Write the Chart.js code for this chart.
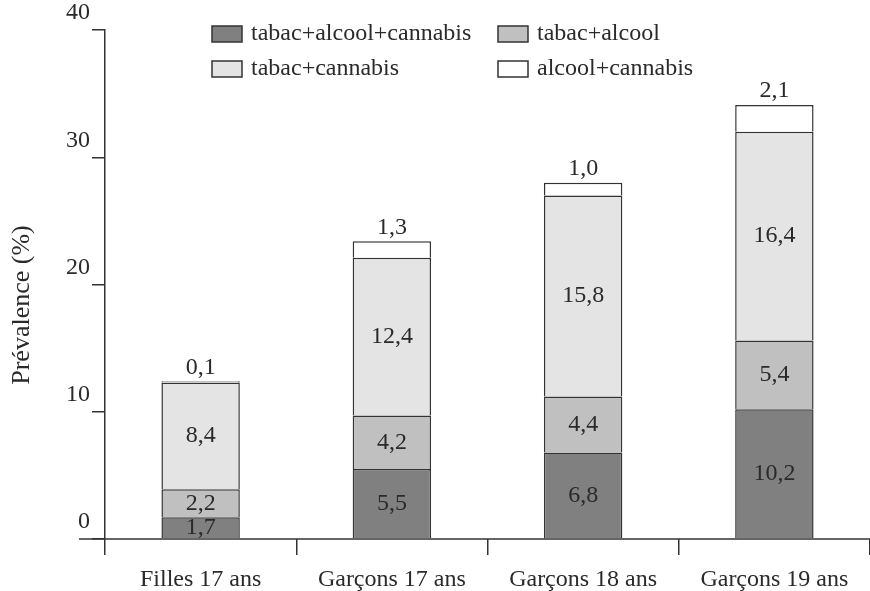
<!DOCTYPE html>
<html>
<head>
<meta charset="utf-8">
<script src="https://cdn.jsdelivr.net/npm/chart.js@4.4.1/dist/chart.umd.min.js"></script>
<style>
  html, body { margin: 0; padding: 0; background: #fff; overflow: hidden; }
  #wrap { width: 870px; height: 591px; }
</style>
</head>
<body>
<div id="wrap"><canvas id="chart" width="870" height="591"></canvas></div>
<script>
// data
const categories = ["Filles 17 ans", "Garçons 17 ans", "Garçons 18 ans", "Garçons 19 ans"];
const tabacAlcoolCannabis = [1.7, 5.5, 6.8, 10.2];
const tabacAlcool = [2.2, 4.2, 4.4, 5.4];
const tabacCannabis = [8.4, 12.4, 15.8, 16.4];
const alcoolCannabis = [0.1, 1.3, 1.0, 2.1];
const yTicks = [0, 10, 20, 30, 40];
const yTitle = "Prévalence (%)";

const FONT = "'Liberation Serif', 'DejaVu Serif', serif";
const INK = "#333333";
const TEXT = "#2a2a2a";

function fr(v) {
	return v.toFixed(1).replace(".", ",");
}

// numbers in / above the segments
const valueLabels = {
	id: "valueLabels",
	afterDatasetsDraw(chart) {
		const ctx = chart.ctx;
		const last = chart.data.datasets.length - 1;
		ctx.save();
		ctx.font = "24px " + FONT;
		ctx.fillStyle = TEXT;
		ctx.textAlign = "center";
		ctx.textBaseline = "middle";
		chart.data.datasets.forEach((ds, i) => {
			chart.getDatasetMeta(i).data.forEach((bar, j) => {
				let y = (bar.y + bar.base) / 2;
				if (i === last) y = bar.y - 14;
				ctx.fillText(fr(ds.data[j]), bar.x, y);
			});
		});
		ctx.restore();
	},
};

// x axis line (runs a bit past the y axis) + rotated y title
const axisExtras = {
	id: "axisExtras",
	afterDraw(chart) {
		const { ctx, chartArea } = chart;
		ctx.save();
		ctx.strokeStyle = INK;
		ctx.lineWidth = 1.5;
		ctx.beginPath();
		ctx.moveTo(chartArea.left - 26, chartArea.bottom);
		ctx.lineTo(chartArea.right, chartArea.bottom);
		ctx.stroke();

		ctx.translate(22, 305);
		ctx.rotate(-Math.PI / 2);
		ctx.font = "26px " + FONT;
		ctx.fillStyle = TEXT;
		ctx.textAlign = "center";
		ctx.textBaseline = "middle";
		ctx.fillText(yTitle, 0, 0);
		ctx.restore();
	},
};

// 2x2 legend laid over the top of the plot
const gridLegend = {
	id: "gridLegend",
	afterDraw(chart) {
		const ctx = chart.ctx;
		const cols = [212, 498];
		const rows = [34, 69];
		ctx.save();
		ctx.font = "24px " + FONT;
		ctx.textBaseline = "middle";
		ctx.textAlign = "left";
		chart.data.datasets.forEach((ds, i) => {
			const x = cols[i % 2];
			const y = rows[Math.floor(i / 2)];
			ctx.fillStyle = ds.backgroundColor;
			ctx.fillRect(x, y - 8, 30, 16);
			ctx.strokeStyle = INK;
			ctx.lineWidth = 1.5;
			ctx.strokeRect(x, y - 8, 30, 16);
			ctx.fillStyle = TEXT;
			ctx.fillText(ds.label, x + 39, y);
		});
		ctx.restore();
	},
};

function seg(label, data, color) {
	return {
		label: label,
		data: data,
		backgroundColor: color,
		borderColor: INK,
		borderWidth: 1.5,
		categoryPercentage: 1,
		barPercentage: 0.41,
	};
}

new Chart(document.getElementById("chart"), {
	type: "bar",
	data: {
		labels: categories,
		datasets: [
			seg("tabac+alcool+cannabis", tabacAlcoolCannabis, "#808080"),
			seg("tabac+alcool", tabacAlcool, "#c0c0c0"),
			seg("tabac+cannabis", tabacCannabis, "#e4e4e4"),
			seg("alcool+cannabis", alcoolCannabis, "#ffffff"),
		],
	},
	options: {
		responsive: false,
		animation: false,
		layout: { padding: { top: 30, right: 0, left: 0, bottom: 0 } },
		plugins: {
			legend: { display: false },
			tooltip: { enabled: false },
		},
		scales: {
			x: {
				stacked: true,
				border: { display: false },
				grid: {
					display: true,
					offset: true,
					drawOnChartArea: false,
					tickLength: 16,
					color: (c) => (c.index === categories.length ? "rgba(0,0,0,0)" : INK),
					lineWidth: 1.5,
				},
				ticks: {
					color: TEXT,
					font: { family: FONT, size: 24 },
					padding: 10,
					maxRotation: 0,
					autoSkip: false,
				},
				afterFit(scale) {
					scale.height = 52;
				},
			},
			y: {
				stacked: true,
				min: 0,
				max: 40,
				border: { display: true, color: INK, width: 1.5 },
				grid: {
					drawOnChartArea: false,
					tickLength: 13,
					color: INK,
					lineWidth: 1.5,
				},
				afterBuildTicks(scale) {
					scale.ticks = yTicks.map((v) => ({ value: v }));
				},
				ticks: {
					color: TEXT,
					font: { family: FONT, size: 24 },
					padding: 2,
					labelOffset: -17,
				},
				afterFit(scale) {
					scale.width = 105;
				},
			},
		},
	},
	plugins: [valueLabels, axisExtras, gridLegend],
});
</script>
</body>
</html>
